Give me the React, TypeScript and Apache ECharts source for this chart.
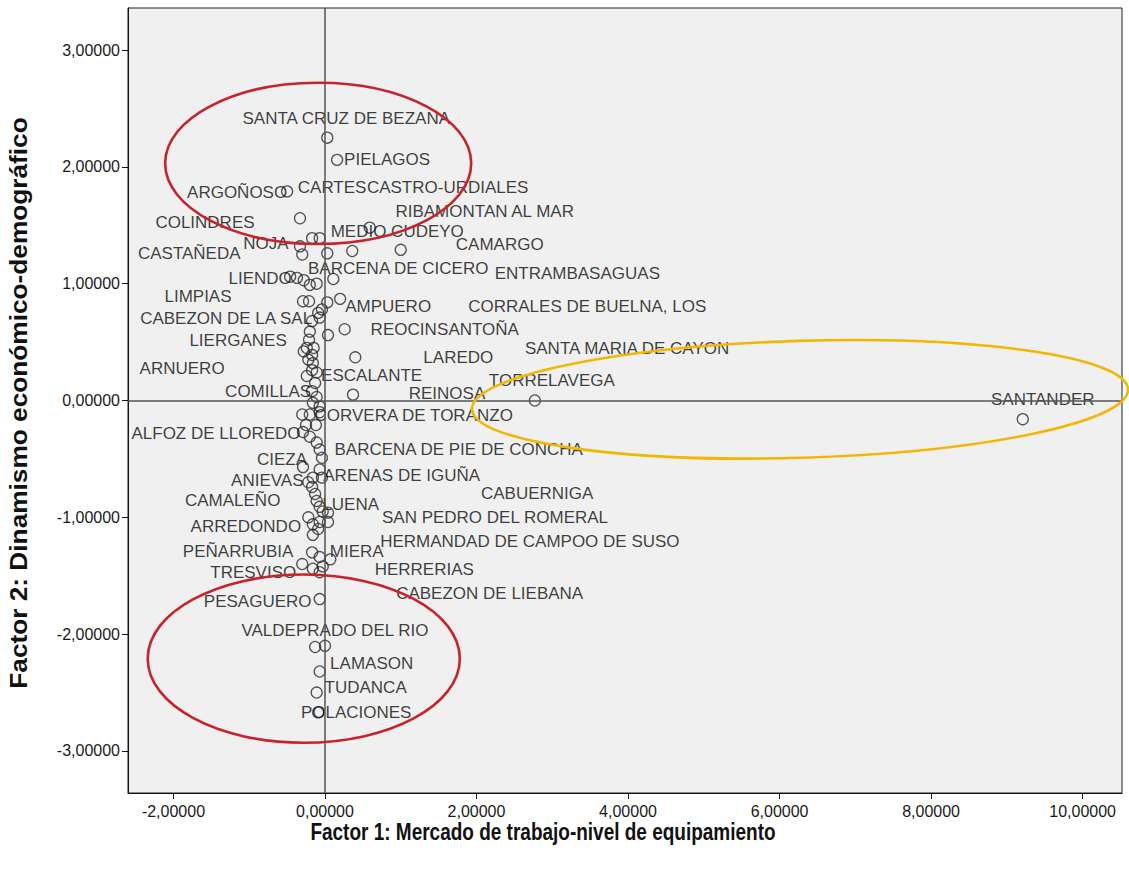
import React, { useEffect, useRef } from "react";
import * as echarts from "echarts";

// Municipalities and their scores on the two factors
const names: string[] = [
  "SANTA CRUZ DE BEZANA", "PIELAGOS", "ARGOÑOSO", "COLINDRES", "RIBAMONTAN AL MAR",
  "CARTES", "CASTRO-URDIALES", "NOJA", "CASTAÑEDA", "BARCENA DE CICERO",
  "MEDIO CUDEYO", "CAMARGO", "LIENDO", "", "",
  "", "", "ENTRAMBASAGUAS", "LIMPIAS", "",
  "AMPUERO", "CORRALES DE BUELNA, LOS", "", "", "CABEZON DE LA SAL",
  "", "LIERGANES", "SANTOÑA", "REOCIN", "",
  "SANTA MARIA DE CAYON", "", "", "LAREDO", "ARNUERO",
  "ESCALANTE", "", "", "COMILLAS", "",
  "REINOSA", "", "", "TORRELAVEGA", "SANTANDER",
  "", "", "CORVERA DE TORANZO", "ALFOZ DE LLOREDO", "",
  "", "BARCENA DE PIE DE CONCHA", "", "CIEZA", "ARENAS DE IGUÑA",
  "", "ANIEVAS", "", "CABUERNIGA", "CAMALEÑO",
  "LUENA", "", "", "", "ARREDONDO",
  "", "SAN PEDRO DEL ROMERAL", "HERMANDAD DE CAMPOO DE SUSO", "PEÑARRUBIA", "MIERA",
  "HERRERIAS", "TRESVISO", "", "CABEZON DE LIEBANA", "",
  "PESAGUERO", "", "VALDEPRADO DEL RIO", "LAMASON", "TUDANCA",
  "POLACIONES", "", "", "", "",
  "", "", "",
];

const factor1: number[] = [
  0.03, 0.16, -0.50, -0.33, 0.59,
  -0.17, -0.07, -0.33, -0.30, 0.03,
  0.36, 1.00, -0.46, -0.37, -0.28,
  -0.20, -0.11, 0.11, -0.29, -0.21,
  0.20, 0.03, -0.04, -0.09, -0.17,
  -0.20, -0.21, 0.04, 0.26, -0.24,
  -0.17, -0.22, -0.16, 0.40, -0.17,
  -0.11, -0.24, -0.13, -0.17, -0.11,
  0.37, -0.16, -0.07, 2.77, 9.21,
  -0.30, -0.20, -0.07, -0.29, -0.20,
  -0.11, -0.07, -0.04, -0.29, -0.07,
  -0.16, -0.22, -0.17, -0.13, -0.11,
  -0.07, -0.03, 0.04, -0.22, -0.16,
  -0.07, 0.04, -0.16, -0.17, -0.07,
  0.07, -0.30, -0.16, -0.07, -0.03,
  -0.07, -0.13, 0.00, -0.07, -0.11,
  -0.09, -0.12, -0.25, -0.04, -0.09,
  -0.07, -0.15, -0.28,
];

const factor2: number[] = [
  2.25, 2.06, 1.79, 1.56, 1.48,
  1.39, 1.39, 1.32, 1.25, 1.26,
  1.28, 1.29, 1.06, 1.05, 1.03,
  0.99, 1.00, 1.04, 0.85, 0.85,
  0.87, 0.84, 0.78, 0.75, 0.68,
  0.59, 0.52, 0.56, 0.61, 0.45,
  0.39, 0.35, 0.32, 0.37, 0.26,
  0.24, 0.21, 0.15, 0.08, 0.03,
  0.05, -0.02, -0.05, 0.00, -0.16,
  -0.12, -0.12, -0.10, -0.27, -0.31,
  -0.36, -0.42, -0.49, -0.57, -0.59,
  -0.66, -0.70, -0.74, -0.80, -0.86,
  -0.91, -0.95, -0.96, -1.00, -1.06,
  -1.04, -1.04, -1.15, -1.30, -1.34,
  -1.36, -1.40, -1.44, -1.47, -1.42,
  -1.70, -2.11, -2.10, -2.32, -2.50,
  -2.67, -0.21, -0.21, -0.66, -1.10,
  0.71, 0.45, 0.42,
];

// Where each case label sits relative to its marker (pixels)
const labelShift: [number, number][] = [
  [19, -19], [50, 0], [-50, 1], [-95, 4], [115, -16],
  [20, -51], [128, -51], [-34, -3], [-113, -1], [71, 15],
  [45, -19], [99, -5], [-30, 2], [0, 0], [0, 0],
  [0, 0], [0, 0], [244, -6], [-105, -5], [0, 0],
  [48, 8], [260, 4], [0, 0], [0, 0], [-86, -3],
  [0, 0], [-71, 1], [150, -6], [59, 0], [0, 0],
  [315, -6], [0, 0], [0, 0], [103, 0], [-130, -2],
  [55, 3], [0, 0], [0, 0], [-44, 0], [0, 0],
  [94, -1], [0, 0], [0, 0], [17, -20], [20, -20],
  [0, 0], [0, 0], [94, 3], [-87, 1], [0, 0],
  [0, 0], [139, 0], [0, 0], [-21, -8], [82, 6],
  [0, 0], [-41, -2], [0, 0], [222, 0], [-84, 0],
  [31, -2], [0, 0], [0, 0], [0, 0], [-67, 2],
  [0, 0], [167, -4], [217, 7], [-74, -1], [37, -6],
  [94, 10], [-49, 8], [0, 0], [170, 21], [0, 0],
  [-62, 2], [0, 0], [10, -15], [52, -8], [49, -5],
  [38, 0], [0, 0], [0, 0], [0, 0], [0, 0],
  [0, 0], [0, 0], [0, 0],
];

const xTicks = [-2, 0, 2, 4, 6, 8, 10];
const yTicks = [-3, -2, -1, 0, 1, 2, 3];

// Highlight ellipses in data units: [centerX, centerY, radiusX, radiusY, color, rotation]
const highlightRings: [number, number, number, number, string, number][] = [
  [-0.09, 2.03, 2.02, 0.69, "#c8232c", 0],
  [-0.28, -2.21, 2.06, 0.72, "#c8232c", 0],
  [6.27, 0.01, 4.33, 0.5, "#f2b705", 0.03],
];

const FONT = "'Liberation Sans', Arial, Helvetica, sans-serif";
const fmt = (v: number) => v.toFixed(5).replace(".", ",");

export default function App() {
  const ref = useRef<HTMLDivElement>(null);

  useEffect(() => {
    if (!ref.current) return;
    const chart = echarts.init(ref.current, null, { renderer: "svg" });

    const points = names.map((n, i) => ({
      value: [factor1[i], factor2[i]],
      name: n,
      label: n
        ? { show: true, offset: labelShift[i] }
        : { show: false },
    }));

    chart.setOption({
      animation: false,
      backgroundColor: "#ffffff",
      grid: {
        left: 128,
        right: 7,
        top: 8,
        bottom: 77,
        show: true,
        backgroundColor: "#f0f0f0",
        borderColor: "#222",
        borderWidth: 1,
      },
      xAxis: {
        type: "value",
        min: -2.6,
        max: 10.52,
        axisLine: { show: true, onZero: false, lineStyle: { color: "#111", width: 1 } },
        axisTick: { show: true, length: 6, customValues: xTicks, lineStyle: { color: "#111" } },
        axisLabel: {
          customValues: xTicks,
          formatter: fmt,
          fontSize: 16,
          fontFamily: FONT,
          color: "#1a1a1a",
          margin: 10,
        },
        splitLine: { show: false },
      },
      yAxis: {
        type: "value",
        min: -3.36,
        max: 3.36,
        axisLine: { show: true, onZero: false, lineStyle: { color: "#111", width: 1 } },
        axisTick: { show: true, length: 6, customValues: yTicks, lineStyle: { color: "#111" } },
        axisLabel: {
          customValues: yTicks,
          formatter: fmt,
          fontSize: 16,
          fontFamily: FONT,
          color: "#1a1a1a",
          margin: 8,
        },
        splitLine: { show: false },
      },
      series: [
        {
          type: "scatter",
          symbol: "circle",
          symbolSize: 11,
          itemStyle: { color: "rgba(0,0,0,0)", borderColor: "#2a2a2a", borderWidth: 1.3 },
          label: {
            position: "inside",
            formatter: (p: any) => p.name,
            fontSize: 17,
            fontFamily: FONT,
            color: "#0d0d0d",
          },
          emphasis: { disabled: true },
          data: points,
          markLine: {
            silent: true,
            symbol: "none",
            label: { show: false },
            lineStyle: { color: "#555", width: 1.5, type: "solid" },
            data: [{ xAxis: 0 }, { yAxis: 0 }],
          },
        },
      ],
    });

    // Hand-drawn highlight rings and axis titles
    const origin = chart.convertToPixel({ gridIndex: 0 }, [0, 0]) as number[];
    const unit = chart.convertToPixel({ gridIndex: 0 }, [1, 1]) as number[];
    const ux = unit[0] - origin[0];
    const uy = origin[1] - unit[1];

    const rings = highlightRings.map(([cx, cy, rx, ry, color, rot]) => {
      const c = chart.convertToPixel({ gridIndex: 0 }, [cx, cy]) as number[];
      return {
        type: "ellipse",
        silent: true,
        z: 100,
        x: c[0],
        y: c[1],
        rotation: rot,
        shape: { cx: 0, cy: 0, rx: rx * ux, ry: ry * uy },
        style: { fill: "none", stroke: color, lineWidth: 2.6 },
      };
    });

    chart.setOption({
      graphic: [
        ...rings,
        {
          type: "text",
          silent: true,
          x: 543,
          y: 832,
          scaleY: 1.3,
          style: {
            text: "Factor 1: Mercado de trabajo-nivel de equipamiento",
            font: `bold 19px ${FONT}`,
            fill: "#111",
            align: "center",
            verticalAlign: "middle",
          },
        },
        {
          type: "text",
          silent: true,
          x: 19,
          y: 403,
          rotation: Math.PI / 2,
          scaleX: 1.25,
          scaleY: 1.12,
          style: {
            text: "Factor 2: Dinamismo económico-demográfico",
            font: `bold 21px ${FONT}`,
            fill: "#111",
            align: "center",
            verticalAlign: "middle",
          },
        },
      ],
    });

    return () => chart.dispose();
  }, []);

  return (
    <div
      ref={ref}
      style={{ position: "fixed", left: 0, top: 0, width: 1129, height: 870 }}
    />
  );
}
